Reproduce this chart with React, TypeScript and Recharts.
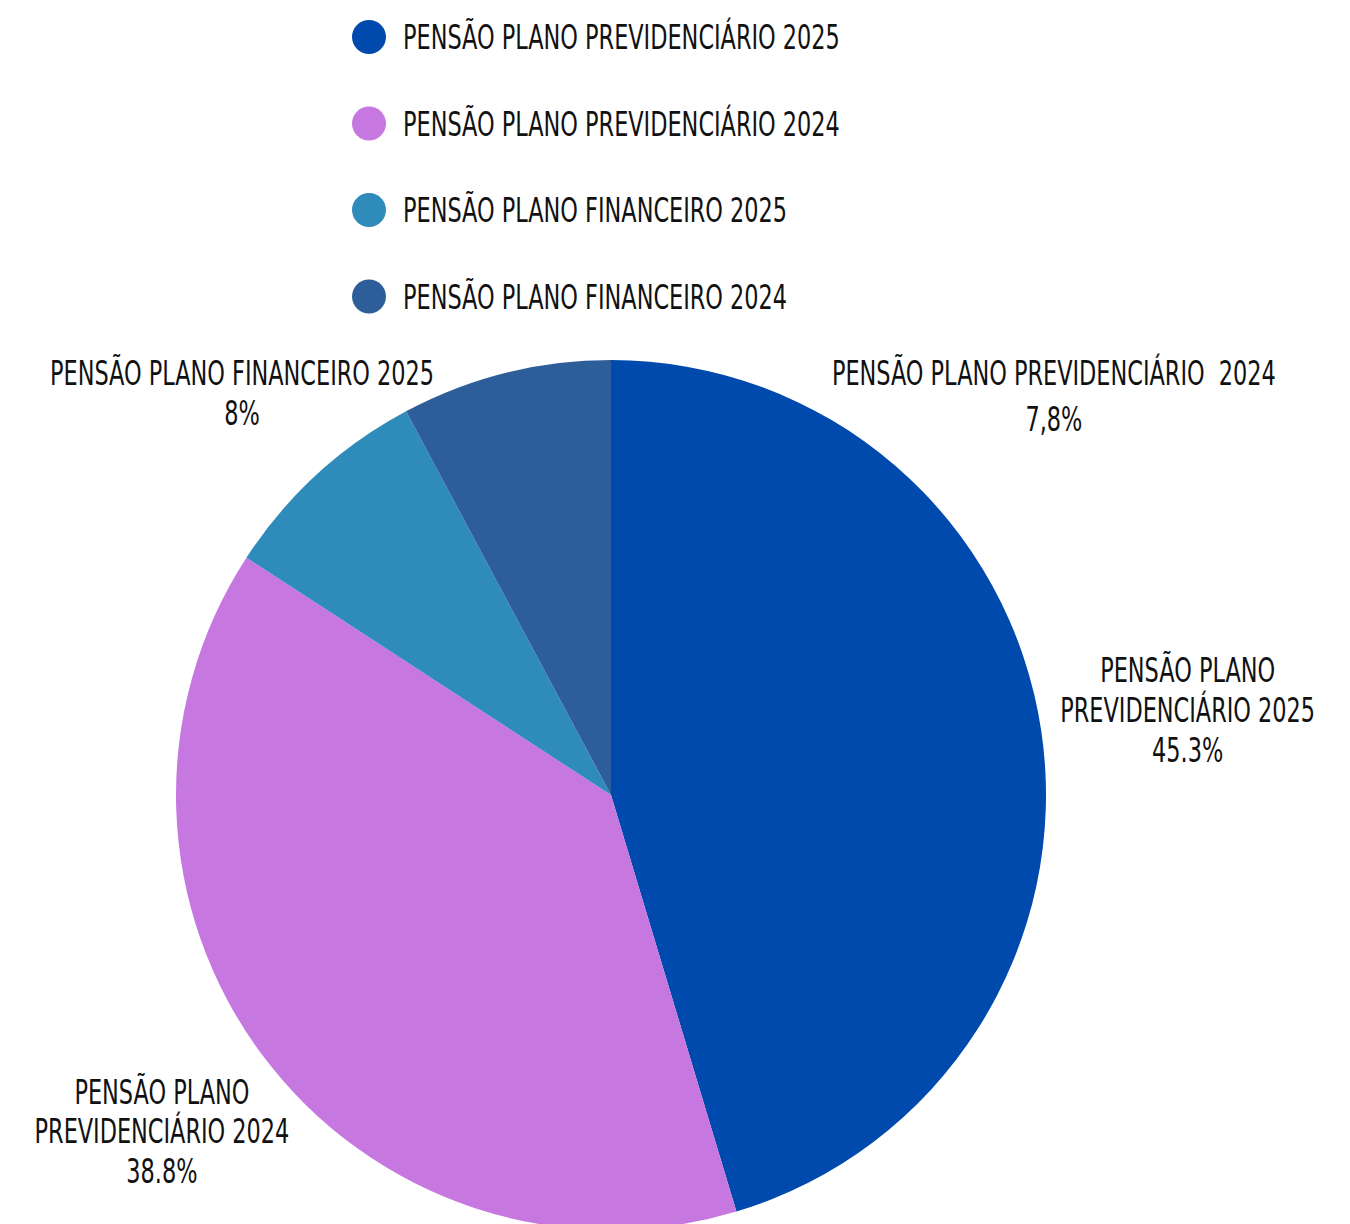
import React from 'react';
import { PieChart, Pie, Cell } from 'recharts';

const names = [
  'PENSÃO PLANO PREVIDENCIÁRIO 2025',
  'PENSÃO PLANO PREVIDENCIÁRIO 2024',
  'PENSÃO PLANO FINANCEIRO 2025',
  'PENSÃO PLANO FINANCEIRO 2024',
];
const values = [45.3, 38.8, 8, 7.8];
const colors = ['#004AAD', '#C678E0', '#2E8BBA', '#2E5E99'];

// slice labels as printed in the source (text kept as-is)
const labelLines = [
  ['PENSÃO PLANO', 'PREVIDENCIÁRIO 2025', '45.3%'],
  ['PENSÃO PLANO', 'PREVIDENCIÁRIO 2024', '38.8%'],
  ['PENSÃO PLANO FINANCEIRO 2025', '8%'],
  ['PENSÃO PLANO PREVIDENCIÁRIO  2024', '7,8%'],
];

const data = names.map((name, i) => ({ name, value: values[i] }));

const FONT = '"Liberation Sans Narrow", "DejaVu Sans Condensed", "Roboto", sans-serif';
const FONT_SIZE = 33;
const SCALE_X = 0.755;
const RAD = Math.PI / 180;

// how far out each label sits, as a multiple of the radius
const labelRadius = [1.34, 1.29, 1.255, 1.37];

const renderLabel = (props: any) => {
  const { cx, cy, midAngle, outerRadius, index } = props;
  // the last label sits away from its slice in the original
  const angle = index === 3 ? 42 : midAngle;
  const r = outerRadius * labelRadius[index];
  const x = cx + r * Math.cos(-angle * RAD);
  const y = cy + r * Math.sin(-angle * RAD);
  const lines = labelLines[index];
  const gap = index === 3 ? 46 : 40;
  const top = y - ((lines.length - 1) * gap) / 2;
  return (
    <g key={`lbl-${index}`} transform={`translate(${x} ${top}) scale(${SCALE_X} 1)`}>
      {lines.map((line, i) => (
        <text
          key={i}
          x={0}
          y={i * gap + 12}
          textAnchor="middle"
          fill="#111"
          fontFamily={FONT}
          fontSize={FONT_SIZE}
          style={{ whiteSpace: 'pre' }}
        >
          {line}
        </text>
      ))}
    </g>
  );
};

const LegendBlock = () => (
  <svg width={900} height={330} style={{ position: 'absolute', left: 0, top: 0 }}>
    {data.map((d, i) => {
      const cyRow = 37 + i * 86.5;
      return (
        <g key={d.name}>
          <circle cx={369} cy={cyRow} r={17} fill={colors[i]} />
          <g transform={`translate(403 ${cyRow + 12}) scale(${SCALE_X} 1)`}>
            <text x={0} y={0} fill="#111" fontFamily={FONT} fontSize={FONT_SIZE}>
              {d.name}
            </text>
          </g>
        </g>
      );
    })}
  </svg>
);

const App = () => {
  return (
    <div style={{ position: 'absolute', left: 0, top: 0, width: 1350, height: 1224, background: '#fff', overflow: 'hidden' }}>
      <PieChart width={1350} height={1224} margin={{ top: 0, right: 0, bottom: 0, left: 0 }}>
        <Pie
          data={data}
          dataKey="value"
          nameKey="name"
          cx={611}
          cy={795}
          outerRadius={435}
          startAngle={90}
          endAngle={-270}
          stroke="none"
          label={renderLabel}
          labelLine={false}
          isAnimationActive={false}
        >
          {data.map((entry, index) => (
            <Cell key={`cell-${index}`} fill={colors[index]} />
          ))}
        </Pie>
      </PieChart>
      <LegendBlock />
    </div>
  );
};

export default App;
